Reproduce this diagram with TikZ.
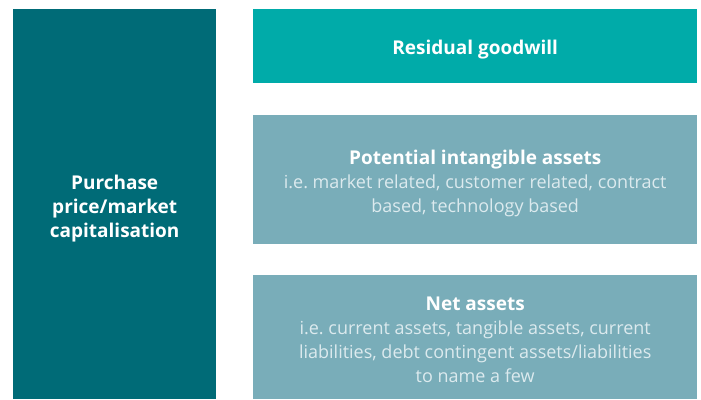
\documentclass[tikz,border=0pt]{standalone}
\usepackage{fontspec}
\setmainfont{Open Sans}
\frenchspacing
\definecolor{darkteal}{HTML}{006B77}
\definecolor{brightteal}{HTML}{00ABA9}
\definecolor{greyteal}{HTML}{79ADB9}
\definecolor{bodytext}{HTML}{DCEAEE}
\tikzset{
  block/.style={rectangle, inner sep=0pt, anchor=north west},
  blocktext/.style={inner sep=0pt, align=center, text=white,
    font=\fontsize{18}{24}\selectfont},
  boldtext/.style={blocktext, font=\fontsize{19}{24}\selectfont\bfseries}
}
\newcommand{\bodyt}[1]{{\color{bodytext}#1}}
\newcommand{\ttl}[1]{{\fontsize{19}{24}\selectfont\bfseries #1}}
\begin{document}
\begin{tikzpicture}[x=1pt,y=-1pt]
\useasboundingbox (0,0) rectangle (701,399);
\node[block, fill=darkteal, minimum width=203pt, minimum height=390pt] (price) at (13,9) {};
\node[block, fill=brightteal, minimum width=444pt, minimum height=74pt] (goodwill) at (253,9) {};
\node[block, fill=greyteal, minimum width=444pt, minimum height=129pt] (intang) at (253,115) {};
\node[block, fill=greyteal, minimum width=444pt, minimum height=124pt] (net) at (253,275) {};

\node[boldtext] (pricetext) at ([yshift=-4pt]price.center) {Purchase\\price/market\\capitalisation};
\node[boldtext] (goodwilltext) at ([yshift=-3pt]goodwill.center) {Residual goodwill};
\node[blocktext] (intangtext) at ([yshift=-4pt]intang.center) {\ttl{Potential intangible assets}\\
  \bodyt{i.e. market related, customer related, contract}\\
  \bodyt{based, technology based}};
\node[blocktext] (nettext) at ([yshift=-3pt]net.center) {\ttl{Net assets}\\
  \bodyt{i.e. current assets, tangible assets, current}\\
  \bodyt{liabilities, debt contingent assets/liabilities}\\
  \bodyt{to name a few}};
\end{tikzpicture}
\end{document}
